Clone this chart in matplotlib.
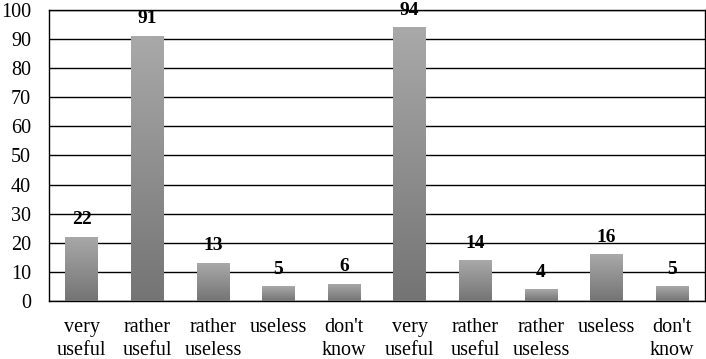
import numpy as np
import matplotlib
matplotlib.use('Agg')
import matplotlib.pyplot as plt
from matplotlib.colors import LinearSegmentedColormap

categories = ["very\nuseful", "rather\nuseful", "rather\nuseless", "useless", "don't\nknow",
              "very\nuseful", "rather\nuseful", "rather\nuseless", "useless", "don't\nknow"]
values = [22, 91, 13, 5, 6, 94, 14, 4, 16, 5]
yticks = list(range(0, 101, 10))

plt.rcParams['font.family'] = ['Liberation Serif', 'DejaVu Serif']

fig = plt.figure(figsize=(7.06, 3.59), dpi=100)
ax = fig.add_axes([0.0694, 0.1616, 0.929, 0.8106])

x = np.arange(len(values))
bars = ax.bar(x, values, width=0.5, color='#909090', zorder=3)

# gradient fill, light at top, darker at bottom
cmap = LinearSegmentedColormap.from_list('g', ['#747474', '#a9a9a9'])
grad = np.linspace(0, 1, 256).reshape(-1, 1)
for b in bars:
    x0, y0 = b.get_x(), b.get_y()
    w, h = b.get_width(), b.get_height()
    im = ax.imshow(grad, cmap=cmap, origin='lower', aspect='auto',
                   extent=(x0, x0 + w, y0, y0 + h), zorder=4)
    im.set_clip_path(b)
    ax.text(x0 + w / 2, h + 3, str(int(h)), ha='center', va='bottom',
            fontsize=14, fontweight='bold', zorder=5)

ax.set_xlim(-0.5, len(values) - 0.5)
ax.set_ylim(0, 100)
ax.set_yticks(yticks)
ax.set_yticklabels([str(t) for t in yticks], fontsize=14.5)
ax.yaxis.grid(True, color='black', linewidth=1.0, zorder=1)
ax.set_axisbelow(True)
ax.tick_params(axis='y', length=0, pad=13)
ax.tick_params(axis='x', length=0, pad=12)
ax.set_xticks(x)
ax.set_xticklabels(categories, fontsize=14.5, linespacing=1.3)
for s in ax.spines.values():
    s.set_color('black')
    s.set_linewidth(1.0)

fig.savefig('out.png', dpi=100)
